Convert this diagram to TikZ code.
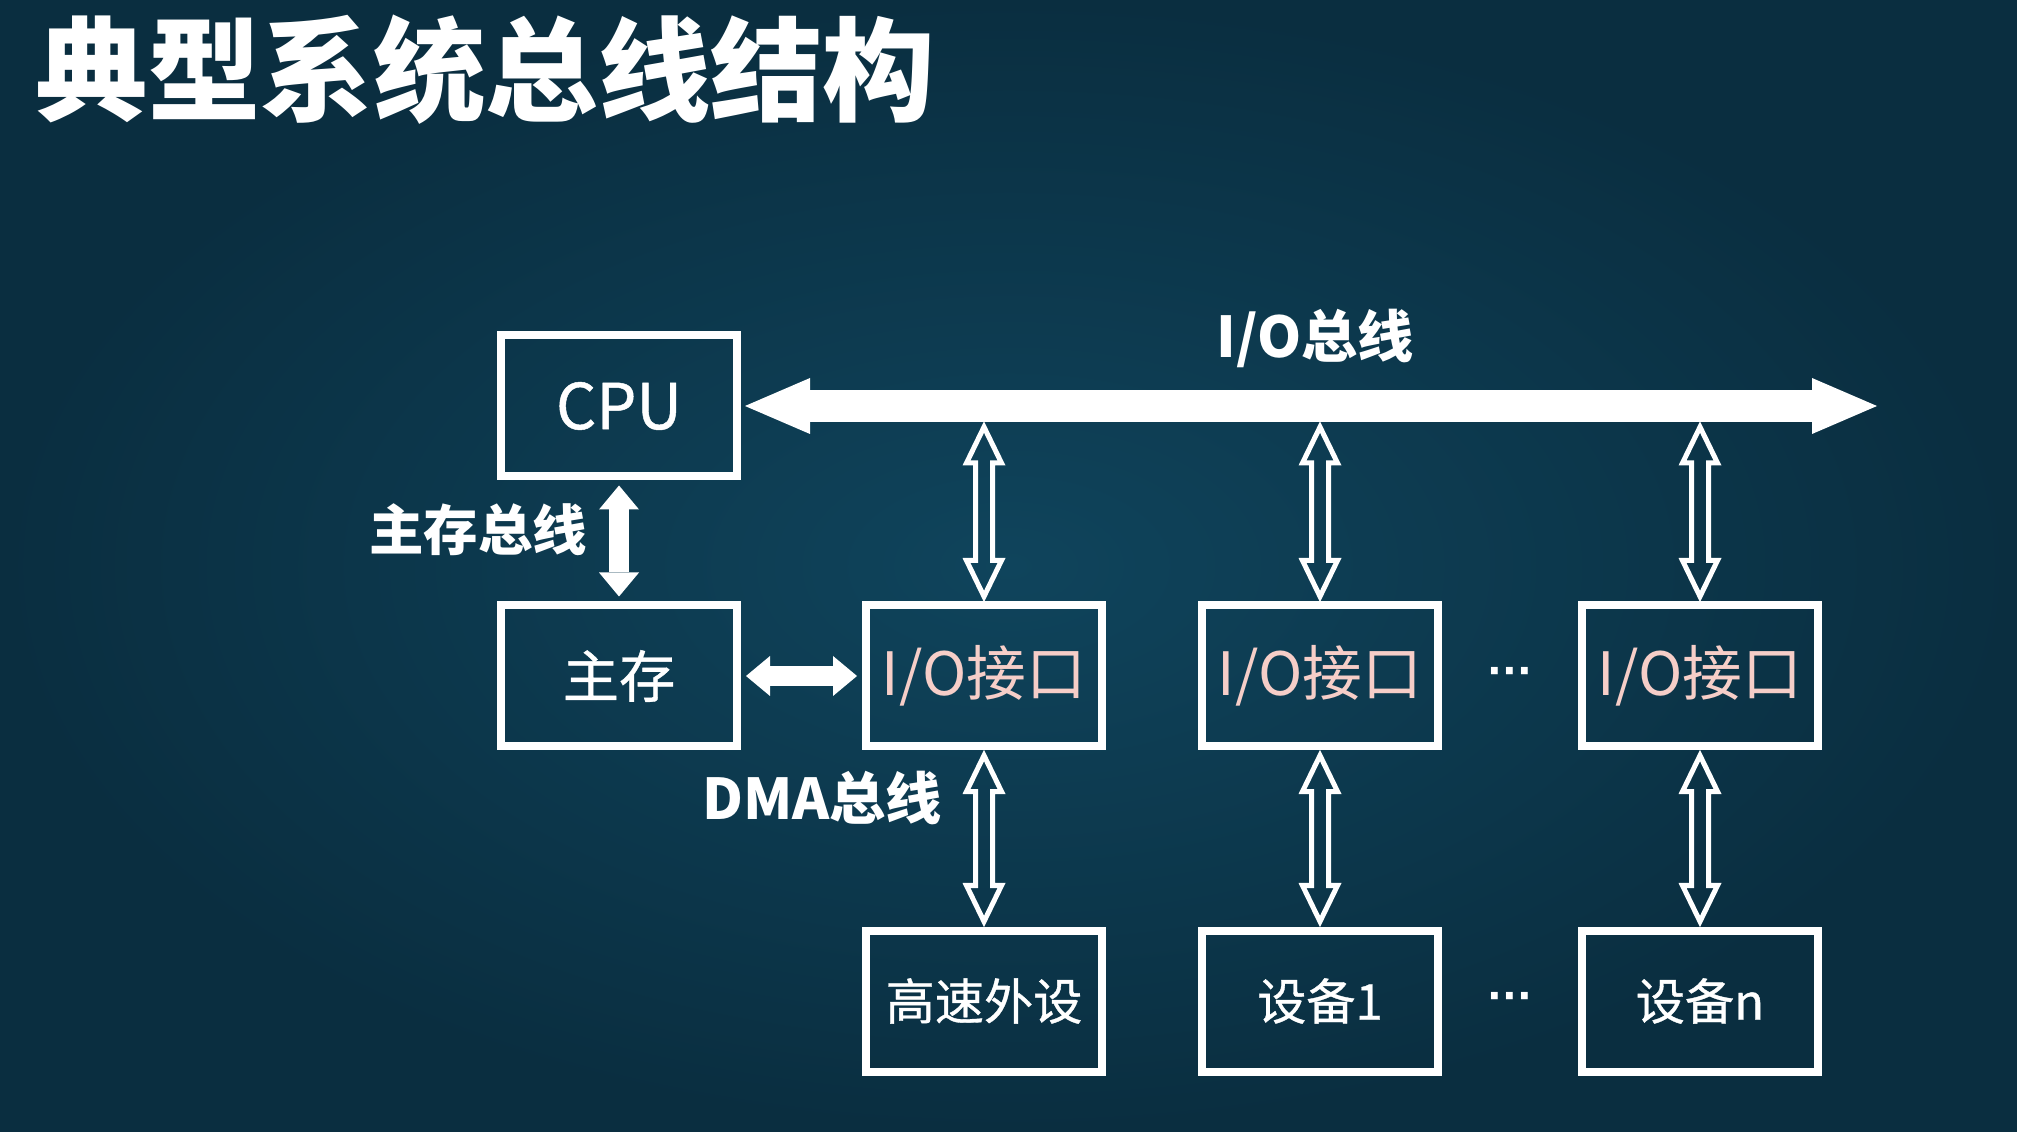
\documentclass[tikz,border=0pt]{standalone}
\usepackage{fontspec}
\setmainfont{Noto Sans CJK SC}
\newfontfamily\boxfont[FakeBold=0.7]{Noto Sans CJK SC}
\newfontfamily\dotfont{DejaVu Sans}
\usetikzlibrary{positioning, arrows.meta, calc}

\definecolor{slidebg}{RGB}{15,68,92}
\definecolor{slidedark}{RGB}{10,46,64}
\definecolor{portpink}{RGB}{246,206,200}

\begin{document}
\begin{tikzpicture}[
					node distance=2.7cm,
					unit/.style={draw=white, line width=0.08cm, minimum width=2.36cm, minimum height=1.41cm, inner sep=0pt, text=white, font=\boxfont\fontsize{14pt}{16pt}\selectfont},
					port/.style={unit, text=portpink, font=\fontsize{17pt}{19pt}\selectfont},
					buslabel/.style={text=white, inner sep=0pt, font=\bfseries\fontsize{16pt}{18pt}\selectfont},
					gap/.style={text=white, inner sep=0pt, font=\dotfont\bfseries\fontsize{11pt}{12pt}\selectfont},
					sysbus/.style={white, line width=0.32cm, {Triangle[length=0.65cm, width=0.56cm, line width=0pt]}-{Triangle[length=0.65cm, width=0.56cm, line width=0pt]}},
					membus/.style={white, line width=0.2cm, {Triangle[length=0.24cm, width=0.40cm, line width=0pt]}-{Triangle[length=0.24cm, width=0.40cm, line width=0pt]}, shorten <=0.05cm, shorten >=0.05cm},
					hollow/.style={draw=white, line width=0.05cm, to path={
						($(\tikztostart)!0.05cm!(\tikztotarget)$)
						-- ($(\tikztostart)!0.41cm!(\tikztotarget)!0.175cm!90:(\tikztotarget)$)
						-- ($(\tikztostart)!0.41cm!(\tikztotarget)!0.085cm!90:(\tikztotarget)$)
						-- ($(\tikztotarget)!0.41cm!(\tikztostart)!0.085cm!-90:(\tikztostart)$)
						-- ($(\tikztotarget)!0.41cm!(\tikztostart)!0.175cm!-90:(\tikztostart)$)
						-- ($(\tikztotarget)!0.05cm!(\tikztostart)$)
						-- ($(\tikztotarget)!0.41cm!(\tikztostart)!0.175cm!90:(\tikztostart)$)
						-- ($(\tikztotarget)!0.41cm!(\tikztostart)!0.085cm!90:(\tikztostart)$)
						-- ($(\tikztostart)!0.41cm!(\tikztotarget)!0.085cm!-90:(\tikztotarget)$)
						-- ($(\tikztostart)!0.41cm!(\tikztotarget)!0.175cm!-90:(\tikztotarget)$)
						-- cycle}}
					]
					% Background
					\fill[inner color=slidebg, outer color=slidedark] (0,0) rectangle (20.17,-11.32);
					\node[anchor=west, text=white, inner sep=0pt, font=\bfseries\fontsize{32pt}{34pt}\selectfont] (title) at (0.35,-0.70) {典型系统总线结构};
					
					% Nodes
					\node[unit, font=\boxfont\fontsize{18pt}{20pt}\selectfont] (CPU) at (6.19,-4.06) {CPU};
					\node[unit, font=\boxfont\fontsize{16pt}{18pt}\selectfont, below of=CPU] (Mem) {主存};
					\node[port, right of=Mem, node distance=3.65cm] (IO1) {I/O接口};
					\node[port, right of=IO1, node distance=3.36cm] (IO2) {I/O接口};
					\node[port, right of=IO2, node distance=3.80cm] (IO3) {I/O接口};
					
					% Device nodes
					\node[unit, below of=IO1, node distance=3.25cm] (Fast) {高速外设};
					\node[unit, below of=IO2, node distance=3.25cm] (Dev1) {设备1};
					\node[unit, below of=IO3, node distance=3.25cm] (DevN) {设备n};
					
					% Bus ends
					\coordinate (busL) at ($(CPU.east)+(0.04,0)$);
					\coordinate (busR) at (18.77,-4.06);
					\coordinate (busfoot) at (0,-4.22);
					\coordinate (tap1) at (IO1.north |- busfoot);
					\coordinate (tap2) at (IO2.north |- busfoot);
					\coordinate (tap3) at (IO3.north |- busfoot);
					
					% Edges
					\draw[sysbus] (busL) -- (busR);
					\draw[membus] (CPU.south) -- (Mem.north);
					\draw[membus] (Mem.east) -- (IO1.west);
					\draw[hollow] (tap1) to (IO1.north);
					\draw[hollow] (tap2) to (IO2.north);
					\draw[hollow] (tap3) to (IO3.north);
					\draw[hollow] (IO1.south) to (Fast.north);
					\draw[hollow] (IO2.south) to (Dev1.north);
					\draw[hollow] (IO3.south) to (DevN.north);
					
					% Bus labels
					\node[buslabel] (iolabel) at (13.15,-3.38) {I/O总线};
					\node[buslabel, font=\bfseries\fontsize{15.5pt}{17pt}\selectfont] (memlabel) at (4.78,-5.30) {主存总线};
					\node[buslabel] (dmalabel) at (8.22,-7.98) {DMA总线};
					\node[gap] (dots1) at ($(IO2.east)!0.5!(IO3.west)$) {···};
					\node[gap] (dots2) at ($(Dev1.east)!0.5!(DevN.west)$) {···};
				\end{tikzpicture}
\end{document}
